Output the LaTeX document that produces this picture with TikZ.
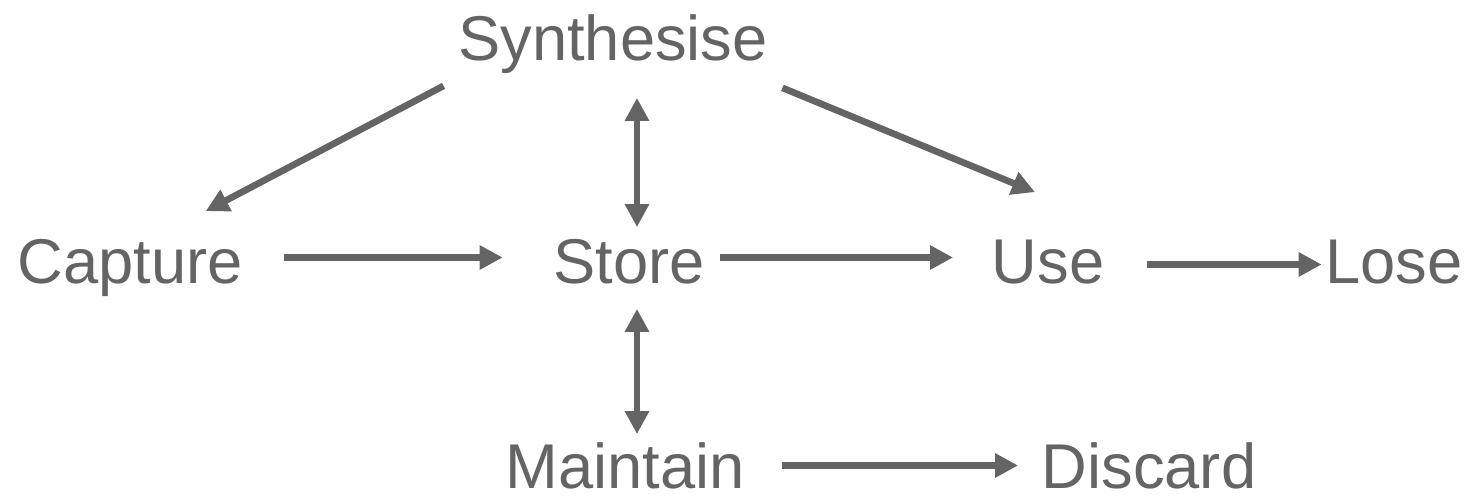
\documentclass[tikz,border=0pt]{standalone}
\usepackage{fontspec}
\setmainfont{Liberation Sans}
\usetikzlibrary{arrows.meta}
\definecolor{stepgray}{RGB}{100,100,100}
\tikzset{
	stage/.style={inner sep=0pt, text height=12.9pt, text depth=0pt, text=stepgray, font=\fontsize{18}{21}\selectfont},
	flow/.style={draw=stepgray, line width=1.9pt, -{Triangle[length=0.23cm, width=0.23cm]}},
	twoway/.style={draw=stepgray, line width=1.9pt, {Triangle[length=0.23cm, width=0.23cm]}-{Triangle[length=0.23cm, width=0.23cm]}}
}
\begin{document}
\begin{tikzpicture}
	\useasboundingbox (0, 0) rectangle (14.68, -4.96);
	\node[stage] (syn) at (6.13, -0.375) {Synthesise};
	\node[stage] (cap) at (1.305, -2.605) {Capture};
	\node[stage] (sto) at (6.29, -2.605) {Store};
	\node[stage] (use) at (10.48, -2.605) {Use};
	\node[stage] (los) at (13.94, -2.605) {Lose};
	\node[stage] (mai) at (6.25, -4.655) {Maintain};
	\node[stage] (dis) at (11.49, -4.655) {Discard};
	\draw[flow] ([shift={(-0.14, -0.25)}]syn.south west) -- ([shift={(-0.38, 0.26)}]cap.north east);
	\draw[flow] ([shift={(0.14, -0.27)}]syn.south east) -- ([shift={(-0.13, 0.45)}]use.north);
	\draw[twoway, shorten <=0.1cm, shorten >=0.37cm] ([xshift=0.8mm]sto.north) -- ([xshift=0.8mm]sto.north |- syn.south);
	\draw[twoway, shorten <=0.25cm, shorten >=0.08cm] ([xshift=0.8mm]sto.south) -- ([xshift=0.8mm]sto.south |- mai.north);
	\draw[flow, shorten <=0.4cm, shorten >=0.5cm] ([yshift=0.03cm]cap.east) -- ([yshift=0.03cm]sto.west);
	\draw[flow, shorten <=0.15cm, shorten >=0.38cm] ([yshift=0.03cm]sto.east) -- ([yshift=0.03cm]use.west);
	\draw[flow, shorten <=0.42cm, shorten >=0.03cm] ([yshift=-0.04cm]use.east) -- ([yshift=-0.04cm]los.west);
	\draw[flow, shorten <=0.37cm, shorten >=0.23cm] (mai) -- (dis);
\end{tikzpicture}
\end{document}
